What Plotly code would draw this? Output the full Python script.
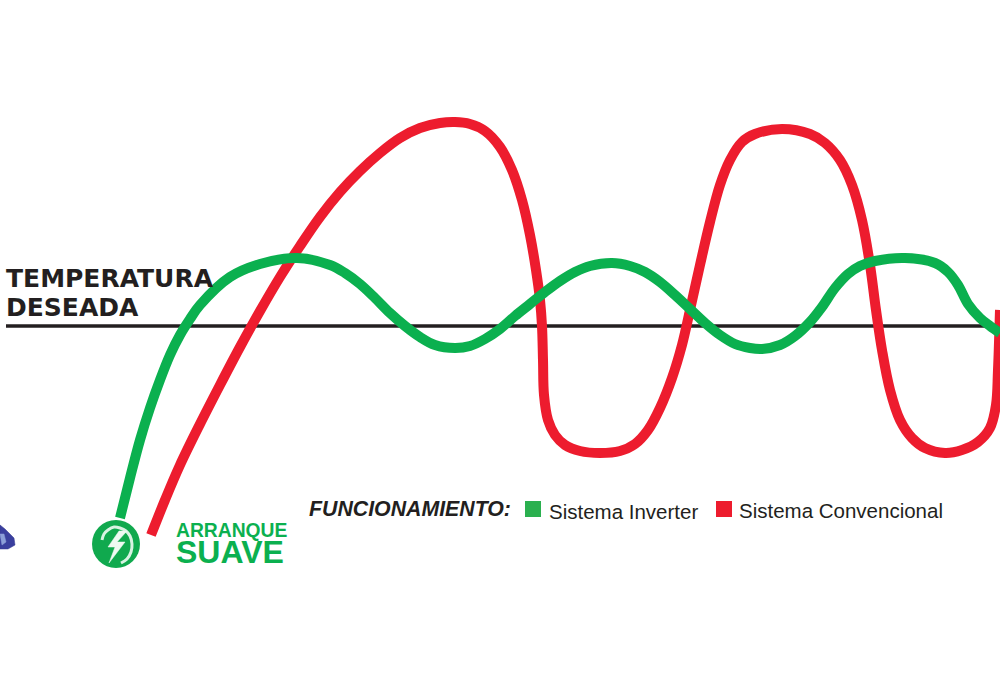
import plotly.graph_objects as go

# time axis (0-1000), temperature relative to setpoint (0 = desired)
inv_t = [120,130,140,150,160,170,180,190,200,230,260,297,330,345,360,375,390,405,420,435,455,470,485,500,515,530,545,560,575,590,612,630,645,660,675,690,705,720,735,750,762,780,795,810,822,835,848,860,875,905,935,948,958,968,980,990,1000]
inv_v = [-192,-152,-114,-82,-54,-29,-9,7,21,49,62,68,61,53,42,28,13,0,-11,-19,-22,-20,-13,-3,10,22,34,45,54,60,63,60,54,44,31,17,3,-9,-18,-22,-23,-19,-10,4,19,38,52,60,65,68,63,54,41,22,8,0,-7]
conv_t = [151,165,180,200,220,240,260,280,300,320,340,360,380,400,420,440,455,470,485,500,512,522,530,536,540,542,543,544,548,555,565,580,600,620,635,648,660,672,682,690,700,710,720,730,742,755,782,810,825,840,852,862,870,876,882,890,900,912,925,945,962,978,990,996,998,1000]
conv_v = [-209,-174,-139,-98,-59,-21,15,49,80,109,134,155,173,188,198,203,204,202,195,179,156,126,91,56,26,0,-34,-69,-94,-109,-119,-125,-127,-125,-118,-104,-82,-52,-19,16,61,104,141,166,184,192,197,192,183,166,141,106,61,16,-24,-64,-94,-112,-122,-127,-124,-116,-102,-79,-44,16]
setpoint_t = [6,1000]
setpoint_v = [0,0]
icon_t = [116]
icon_v = [-218]
arc_t = [102,104,108,114,120,126,130,132,131,127,121]
arc_v = [-214,-208,-204,-201,-202,-205,-210,-218,-226,-233,-237]
bolt_t = [119,108,115,109,125,117,127,119]
bolt_v = [-205,-221,-221,-237,-216,-216,-205,-205]
gem_t = [0,5,14,15,8,0,0]
gem_v = [-199,-203,-212,-219,-223,-223,-199]
gem2_t = [0,4,6,2,0]
gem2_v = [-208,-208,-216,-219,-208]

GREEN, RED = "#0bb04f", "#ed1c2e"
fig = go.Figure()
fig.add_scatter(x=setpoint_t, y=setpoint_v, mode="lines", line=dict(color="#231f20", width=3.5))
fig.add_scatter(x=conv_t, y=conv_v, mode="lines", line=dict(color=RED, width=10, shape="spline", smoothing=1))
fig.add_scatter(x=inv_t, y=inv_v, mode="lines", line=dict(color=GREEN, width=10, shape="spline", smoothing=1))
fig.add_scatter(x=icon_t, y=icon_v, mode="markers", marker=dict(color="#10a94e", size=48))
fig.add_scatter(x=arc_t, y=arc_v, mode="lines", line=dict(color="#d8f3e2", width=3, shape="spline"))
fig.add_scatter(x=bolt_t, y=bolt_v, mode="lines", fill="toself", fillcolor="#eefaf2", line=dict(color="#eefaf2", width=0.5))
fig.add_scatter(x=gem_t, y=gem_v, mode="lines", fill="toself", fillcolor="#3a3f9e", line=dict(color="#34388f", width=0.5))
fig.add_scatter(x=gem2_t, y=gem2_v, mode="lines", fill="toself", fillcolor="#8c9fd8", line=dict(color="#8c9fd8", width=0.5))
fig.add_scatter(x=[533], y=[-183], mode="markers", marker=dict(symbol="square", size=16, color="#2bb04f"))
fig.add_scatter(x=[724], y=[-183], mode="markers", marker=dict(symbol="square", size=16, color=RED))

def label(x, y, text, size, color="#231f20", anchor="left", family="Liberation Sans", weight=400, style="normal"):
    fig.add_annotation(x=x, y=y, text=text, showarrow=False, xanchor=anchor, yanchor="middle", xshift=-2,
                       font=dict(size=size, color=color, family=family, weight=weight, style=style))

label(6, 48, "TEMPERATURA", 25, family="DejaVu Sans", weight=700)
label(6, 19, "DESEADA", 25, family="DejaVu Sans", weight=700)
label(176, -204, "ARRANQUE", 19.3, GREEN, weight=700)
label(176, -226, "SUAVE", 32, GREEN, weight=700)
label(309, -183, "FUNCIONAMIENTO:", 21.3, weight=700, style="italic")
label(549, -185, "Sistema Inverter", 20.5)
label(739, -184, "Sistema Convencional", 20.5)

fig.update_layout(
    width=1000, height=685, margin=dict(l=0, r=0, t=0, b=0), showlegend=False,
    paper_bgcolor="white", plot_bgcolor="white",
    xaxis=dict(range=[0, 1000], visible=False, fixedrange=True),
    yaxis=dict(range=[-359, 326], visible=False, fixedrange=True),
)
fig.write_html("out.html", config=dict(displayModeBar=False),
               post_script="document.body.style.margin='0';document.body.style.overflow='hidden';")
